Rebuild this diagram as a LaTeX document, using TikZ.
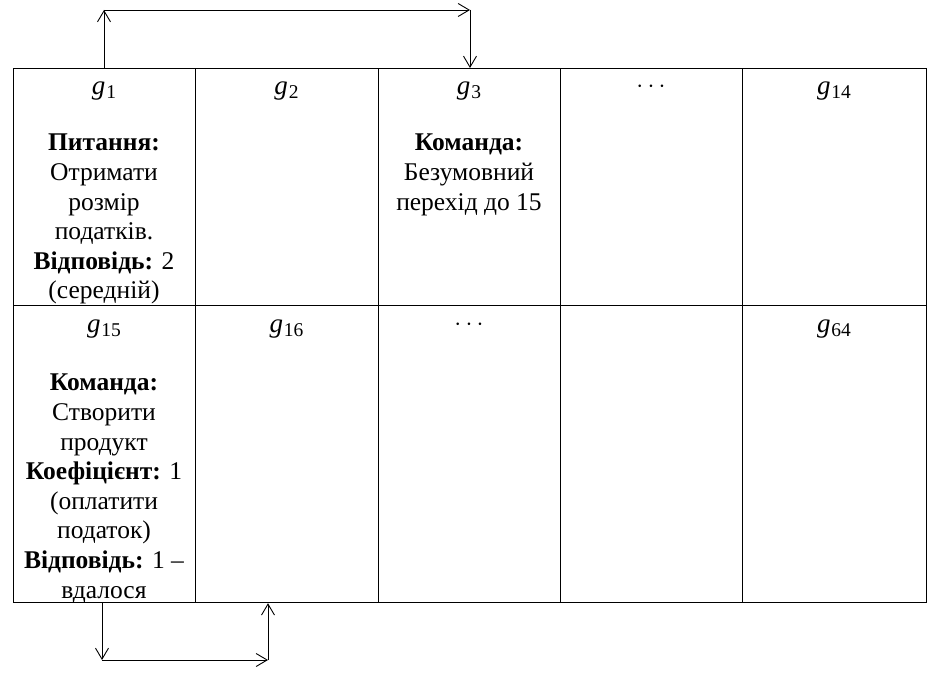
\documentclass[tikz,border=0pt]{standalone}
\usepackage{fontspec}
\setmainfont{Liberation Serif}
\usetikzlibrary{arrows.meta}
\newcommand\gsub[1]{\textit{g}\kern0.8pt\raisebox{-4pt}{\fontsize{19.5}{19.5}\selectfont #1}}
\begin{document}
\begin{tikzpicture}[x=1pt,y=-1pt,
  cell/.style={draw,line width=1.2pt,minimum width=#1,inner sep=0pt,anchor=north west},
  lbl/.style={inner sep=0pt,font=\fontsize{27}{30}\selectfont},
  dots/.style={inner sep=0pt,font=\fontsize{24}{30}\selectfont},
  txt/.style={inner sep=0pt,anchor=north,align=center,font=\fontsize{25.5}{29.6}\selectfont},
  arr/.style={line width=0.9pt,-{Straight Barb[length=11pt,width=13pt,line width=0.9pt]}}]
\useasboundingbox (0,0) rectangle (934,676);
% row 1
\node[cell=182pt,minimum height=237pt] (c11) at (13,68) {};
\node[cell=183pt,minimum height=237pt] (c12) at (195,68) {};
\node[cell=182pt,minimum height=237pt] (c13) at (378,68) {};
\node[cell=182pt,minimum height=237pt] (c14) at (560,68) {};
\node[cell=184pt,minimum height=237pt] (c15) at (742,68) {};
% row 2
\node[cell=182pt,minimum height=297pt] (c21) at (13,305) {};
\node[cell=183pt,minimum height=297pt] (c22) at (195,305) {};
\node[cell=182pt,minimum height=297pt] (c23) at (378,305) {};
\node[cell=182pt,minimum height=297pt] (c24) at (560,305) {};
\node[cell=184pt,minimum height=297pt] (c25) at (742,305) {};
% labels
\node[lbl] (g1) at (104,91) {\gsub{1}};
\node[lbl] (g2) at (286.5,91) {\gsub{2}};
\node[lbl] (g3) at (469,91) {\gsub{3}};
\node[dots] (d1) at (651,87) {$\cdots$};
\node[lbl] (g14) at (834,91) {\gsub{14}};
\node[lbl] (g15) at (104,329) {\gsub{15}};
\node[lbl] (g16) at (286.5,329) {\gsub{16}};
\node[dots] (d2) at (469,325) {$\cdots$};
\node[lbl] (g64) at (834,329) {\gsub{64}};
% texts
\node[txt] (t1) at (104,134) {\textbf{Питання:}\\Отримати\\розмір\\податків.\\\textbf{Відповідь:} 2\\(середній)};
\node[txt] (t3) at (469,134) {\textbf{Команда:}\\Безумовний\\перехід до 15};
\node[txt] (t15) at (104,374) {\textbf{Команда:}\\Створити\\продукт\\\textbf{Коефіцієнт:} 1\\(оплатити\\податок)\\\textbf{Відповідь:} 1 --\\вдалося};
% arrows top
\coordinate (a1) at (104,10);
\coordinate (a2) at (470,10);
\draw[arr] (c11.north -| a1) -- (a1);
\draw[arr] (a1) -- (a2);
\draw[arr] (a2) -- (c13.north -| a2);
% arrows bottom
\coordinate (b1) at (102,660);
\coordinate (b2) at (268,660);
\draw[arr] (c21.south -| b1) -- (b1);
\draw[arr] (b1) -- (b2);
\draw[arr] (b2) -- (c22.south -| b2);
\end{tikzpicture}
\end{document}
